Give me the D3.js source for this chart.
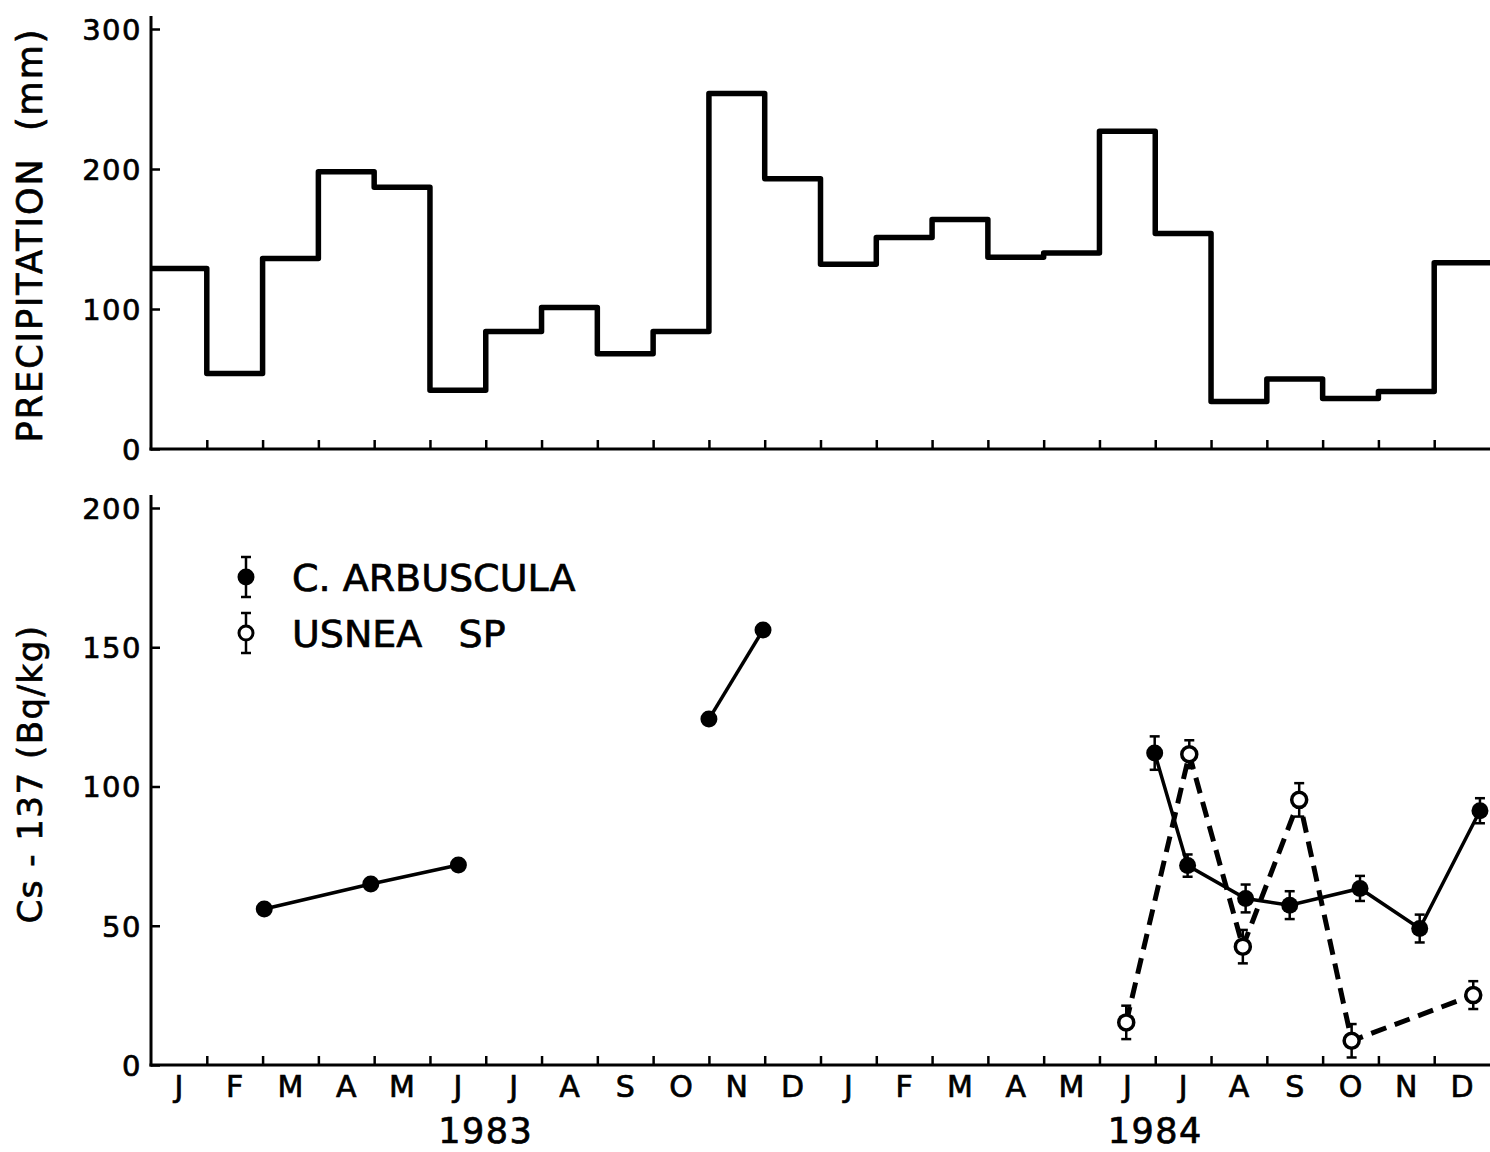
<!DOCTYPE html>
<html>
<head>
<meta charset="utf-8">
<script src="https://cdn.jsdelivr.net/npm/d3@7"></script>
<style>
  html, body { margin: 0; padding: 0; background: #fff; }
  svg { display: block; }
  text { font-family: "DejaVu Sans", sans-serif; fill: #000; stroke: #000; stroke-width: 0.7px; }
</style>
</head>
<body>
<svg id="chart" width="1490" height="1152"></svg>
<script>
// ---- data -----------------------------------------------------------
// Month initials, Jan 1983 .. Dec 1984
const months = ["J","F","M","A","M","J","J","A","S","O","N","D",
                "J","F","M","A","M","J","J","A","S","O","N","D"];
const yearLabels = ["1983", "1984"];
const yearCentres = [6, 18];          // months since 1 Jan 1983

// Monthly precipitation (mm)
const precipitation = [129, 54, 136, 198, 187, 42, 84, 101, 68, 84, 254, 193,
                       132, 151, 164, 137, 140, 227, 154, 34, 50, 36, 41, 133];
const precipTicks = [0, 100, 200, 300];
const csTicks = [0, 50, 100, 150, 200];

// Cladonia arbuscula: sampling time (months since 1 Jan 1983), Cs-137 (Bq/kg),
// error half-width, and the connected run each sample belongs to
const arbTime  = [2.03, 3.94, 5.51, 10.0, 10.97, 17.99, 18.58, 19.62, 20.41, 21.67, 22.74, 23.82];
const arbValue = [56, 65, 71.8, 124.2, 156.2, 112, 71.6, 59.8, 57.4, 63.4, 49, 91.3];
const arbErr   = [0, 0, 0, 0, 0, 6, 4, 5, 5, 4.5, 5, 4.5];
const arbRun   = [0, 0, 0, 1, 1, 2, 2, 2, 2, 2, 2, 2];

// Usnea sp.
const usneaTime  = [17.48, 18.61, 19.57, 20.58, 21.52, 23.70];
const usneaValue = [15.3, 111.6, 42.5, 95.2, 8.7, 25.1];
const usneaErr   = [6, 5, 6, 6, 6, 5];

const legendLabels = ["C. ARBUSCULA", "USNEA\u00A0\u00A0\u00A0SP"];

// ---- layout ---------------------------------------------------------
const svg = d3.select("#chart");
const x = d3.scaleLinear().domain([0, 24]).range([151, 1490]);
const yP = d3.scaleLinear().domain([0, 300]).range([449, 29]);
const yC = d3.scaleLinear().domain([0, 200]).range([1065, 508]);

const AXIS_W = 3;

function drawFrame(y, ticks) {
  const g = svg.append("g");
  // vertical axis, running a little past the top tick
  g.append("line")
    .attr("x1", x(0)).attr("x2", x(0))
    .attr("y1", y.range()[0] + 1.5).attr("y2", y.range()[1] - 13)
    .attr("stroke", "#000").attr("stroke-width", AXIS_W);
  // horizontal axis
  g.append("line")
    .attr("x1", x(0) - 1.5).attr("x2", x(24))
    .attr("y1", y(0)).attr("y2", y(0))
    .attr("stroke", "#000").attr("stroke-width", AXIS_W);

  const ya = d3.axisLeft(y).tickValues(ticks).tickSize(-9).tickSizeOuter(0)
    .tickPadding(9).tickFormat(d3.format("d"));
  const yg = g.append("g").attr("transform", `translate(${x(0)},0)`).call(ya);
  yg.select(".domain").remove();
  yg.selectAll(".tick line").attr("stroke", "#000").attr("stroke-width", 2.5);
  yg.selectAll(".tick text")
    .attr("font-family", "DejaVu Sans").attr("font-size", 29)
    .attr("letter-spacing", 1.5).attr("fill", "#000").attr("dy", "0.36em");

  const xa = d3.axisBottom(x).tickValues(d3.range(1, 24)).tickSize(-9)
    .tickSizeOuter(0).tickFormat("");
  const xg = g.append("g").attr("transform", `translate(0,${y(0)})`).call(xa);
  xg.select(".domain").remove();
  xg.selectAll(".tick line").attr("stroke", "#000").attr("stroke-width", 2.5);
}

// ---- precipitation panel -------------------------------------------
drawFrame(yP, precipTicks);

const stepPts = precipitation.map((v, i) => [i, v]);
stepPts.push([24, precipitation[precipitation.length - 1]]);
svg.append("path")
  .attr("d", d3.line().x(d => x(d[0])).y(d => yP(d[1])).curve(d3.curveStepAfter)(stepPts))
  .attr("fill", "none").attr("stroke", "#000").attr("stroke-width", 5.5)
  .attr("stroke-linejoin", "round");

svg.append("text")
  .attr("transform", `translate(42,235) rotate(-90)`)
  .attr("text-anchor", "middle").attr("font-size", 35).attr("letter-spacing", 2)
  .text("PRECIPITATION\u00A0\u00A0(mm)");

// ---- Cs-137 panel ---------------------------------------------------
drawFrame(yC, csTicks);

svg.append("text")
  .attr("transform", `translate(42,774) rotate(-90)`)
  .attr("text-anchor", "middle").attr("font-size", 34).attr("letter-spacing", 1.5)
  .text("Cs - 137 (Bq/kg)");

const arb = arbTime.map((t, i) => ({t, v: arbValue[i], e: arbErr[i], run: arbRun[i]}));
const usn = usneaTime.map((t, i) => ({t, v: usneaValue[i], e: usneaErr[i]}));

const line = d3.line().x(d => x(d.t)).y(d => yC(d.v));

// Usnea: dashed connection
svg.append("path").attr("d", line(usn))
  .attr("fill", "none").attr("stroke", "#000").attr("stroke-width", 5)
  .attr("stroke-dasharray", "16,9");

// C. arbuscula: solid connection within each run
d3.groups(arb, d => d.run).forEach(([, pts]) => {
  svg.append("path").attr("d", line(pts))
    .attr("fill", "none").attr("stroke", "#000").attr("stroke-width", 3.5);
});

function errorBar(g, cx, yTop, yBot) {
  g.append("line").attr("x1", cx).attr("x2", cx).attr("y1", yTop).attr("y2", yBot)
    .attr("stroke", "#000").attr("stroke-width", 2.5);
  [yTop, yBot].forEach(yy => g.append("line")
    .attr("x1", cx - 5).attr("x2", cx + 5).attr("y1", yy).attr("y2", yy)
    .attr("stroke", "#000").attr("stroke-width", 2.5));
}

const marks = svg.append("g");
arb.filter(d => d.e > 0).forEach(d => errorBar(marks, x(d.t), yC(d.v + d.e), yC(d.v - d.e)));
usn.forEach(d => errorBar(marks, x(d.t), yC(d.v + d.e), yC(d.v - d.e)));

marks.selectAll("circle.arb").data(arb).join("circle").attr("class", "arb")
  .attr("cx", d => x(d.t)).attr("cy", d => yC(d.v)).attr("r", 8.5).attr("fill", "#000");
marks.selectAll("circle.usn").data(usn).join("circle").attr("class", "usn")
  .attr("cx", d => x(d.t)).attr("cy", d => yC(d.v)).attr("r", 7.5)
  .attr("fill", "#fff").attr("stroke", "#000").attr("stroke-width", 3.5);

// ---- legend ---------------------------------------------------------
const legend = svg.append("g");
const legY = [577, 633];
legY.forEach((ly, i) => {
  errorBar(legend, 246, ly - 20, ly + 20);
  if (i === 0) {
    legend.append("circle").attr("cx", 246).attr("cy", ly).attr("r", 8.5).attr("fill", "#000");
  } else {
    legend.append("circle").attr("cx", 246).attr("cy", ly).attr("r", 7)
      .attr("fill", "#fff").attr("stroke", "#000").attr("stroke-width", 3);
  }
  legend.append("text").attr("x", 292).attr("y", ly + 14)
    .attr("font-size", 38).text(legendLabels[i]);
});

// ---- month and year labels -----------------------------------------
svg.append("g").selectAll("text").data(months).join("text")
  .attr("x", (d, i) => x(i + 0.5)).attr("y", 1097)
  .attr("text-anchor", "middle").attr("font-size", 30).text(d => d);

svg.append("g").selectAll("text").data(yearLabels).join("text")
  .attr("x", (d, i) => x(yearCentres[i])).attr("y", 1143)
  .attr("text-anchor", "middle").attr("font-size", 35).attr("letter-spacing", 1.5)
  .text(d => d);
</script>
</body>
</html>
